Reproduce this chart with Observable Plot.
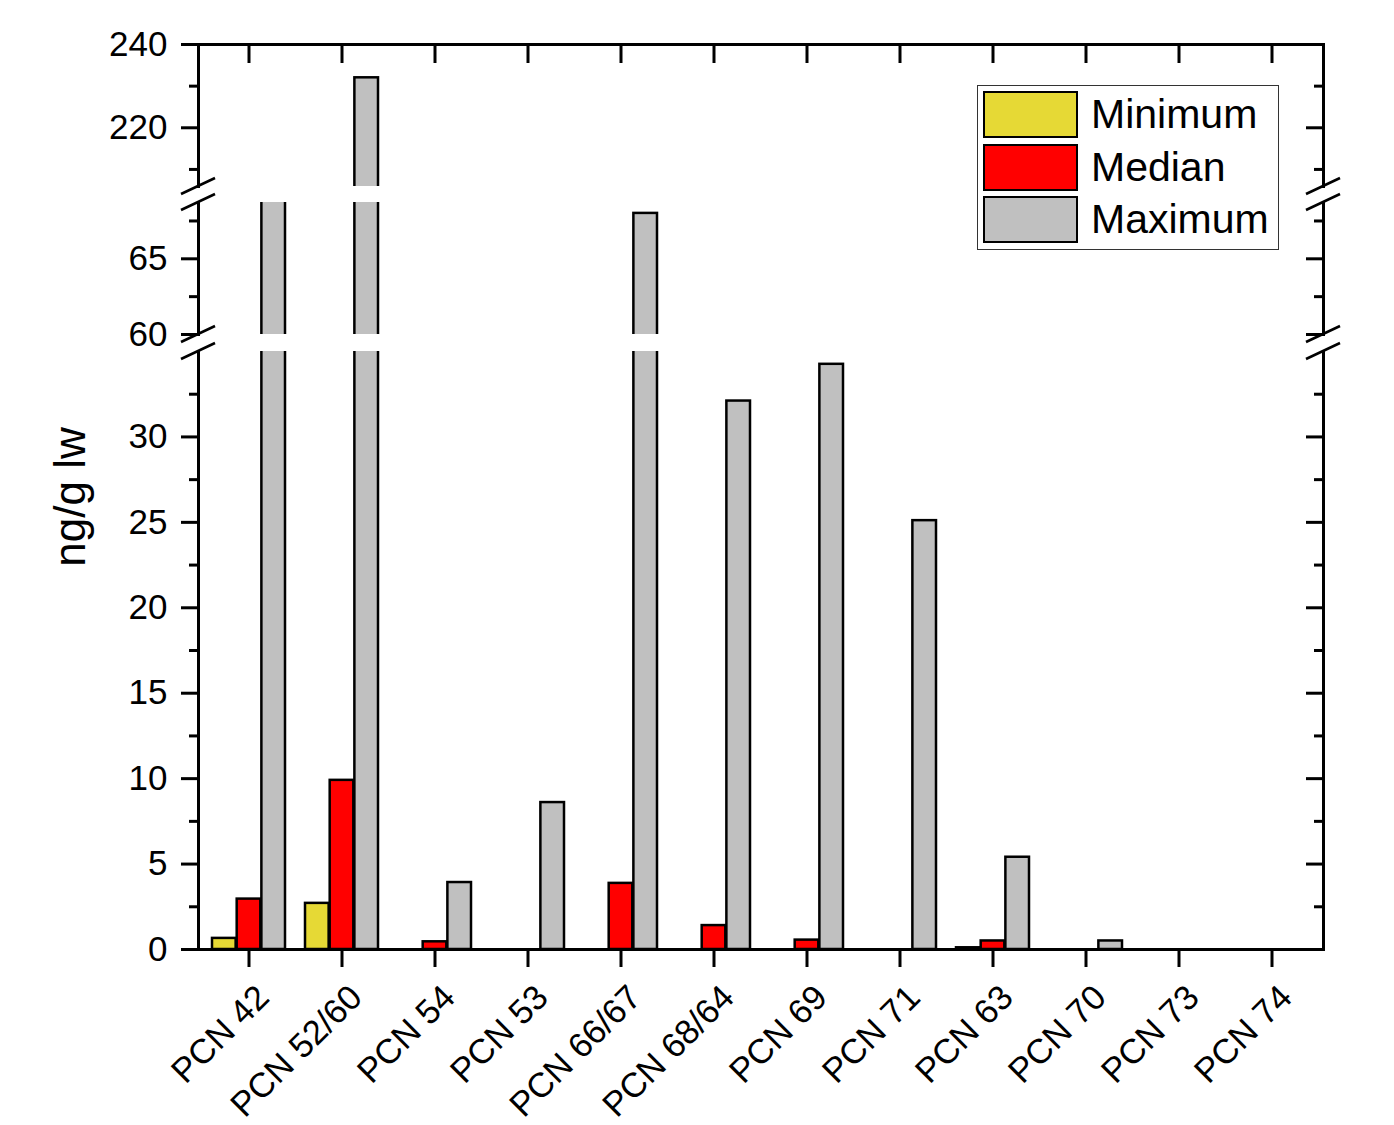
<!DOCTYPE html>
<html>
<head>
<meta charset="utf-8">
<script src="https://cdn.jsdelivr.net/npm/d3@7"></script>
<script src="https://cdn.jsdelivr.net/npm/@observablehq/plot@0.6"></script>
<style>
  html, body { margin: 0; padding: 0; background: #fff; }
  #chart { position: relative; width: 1394px; height: 1125px; overflow: hidden; font-family: "Liberation Sans", Arial, sans-serif; }
  #chart > svg { position: absolute; left: 0; }
  .legend { position: absolute; left: 977px; top: 85px; width: 302px; height: 165px; box-sizing: border-box; border: 1.5px solid #333; background: #fff; }
  .legend .sw { position: absolute; left: 4.5px; width: 95px; height: 47px; box-sizing: border-box; border: 2.5px solid #000; }
  .legend .lb { position: absolute; left: 113px; height: 47px; line-height: 47px; font-size: 41px; color: #000; white-space: nowrap; }
</style>
</head>
<body>
<div id="chart"></div>
<script>
// ---- data ----
const categories = ["PCN 42", "PCN 52/60", "PCN 54", "PCN 53", "PCN 66/67", "PCN 68/64", "PCN 69", "PCN 71", "PCN 63", "PCN 70", "PCN 73", "PCN 74"];
const minimum = [0.65, 2.7, 0, 0, 0, 0, 0, 0, 0.1, 0, 0, 0];
const median  = [2.95, 9.9, 0.45, 0, 3.87, 1.4, 0.55, 0, 0.5, 0, 0, 0];
const maximum = [120, 232, 3.92, 8.6, 68.0, 32.1, 34.25, 25.1, 5.4, 0.5, 0, 0];
const seriesNames = ["Minimum", "Median", "Maximum"];
const seriesColors = ["#e6d935", "#ff0000", "#c0c0c0"];
const yLabel = "ng/g lw";

// axis segments (broken y axis)
const topDomain = [205.9, 240], topMajor = [220, 240], topMinor = [210, 230];
const midDomain = [60, 68.72], midMajor = [60, 65], midMinor = [62.5, 67.5];
const lowDomain = [0, 35], lowMajor = [0, 5, 10, 15, 20, 25, 30], lowMinor = [2.5, 7.5, 12.5, 17.5, 22.5, 27.5, 32.5];

// ---- layout ----
const W = 1394, ML = 198, MR = 71;
const PAD_IN = 0.21, PAD_OUT = 0.105;
const step = (W - ML - MR) / (categories.length - PAD_IN + 2 * PAD_OUT);
const bw = step * (1 - PAD_IN);
const FONT = "Liberation Sans, Arial, sans-serif";

const valuesBySeries = [minimum, median, maximum];
const rows = categories.flatMap((c, i) => seriesNames.map((s, k) => ({category: c, series: s, value: valuesBySeries[k][i]})));

function breakMarks(ends) {
  return (index, scales, values, dims) => {
    const g = d3.create("svg:g").attr("stroke", "#000").attr("stroke-width", 2.5).attr("fill", "none");
    const xs = [dims.marginLeft, dims.width - dims.marginRight];
    for (const v of ends) {
      const y = scales.y(v);
      for (const x of xs) {
        g.append("line").attr("x1", x - 17).attr("y1", y + 8).attr("x2", x + 17).attr("y2", y - 8);
      }
    }
    return g.node();
  };
}

function segment({domain, major, minor, mt, h, mb, isTop, isBottom, breaks}) {
  const marks = [];
  seriesNames.forEach((s, i) => {
    marks.push(Plot.barY(rows.filter(d => d.series === s), {
      x: "category", y: "value", fill: seriesColors[i], stroke: "#000", strokeWidth: 2.5,
      insetLeft: i * bw / 3, insetRight: (2 - i) * bw / 3, clip: true
    }));
  });
  marks.push(Plot.frame({anchor: "left", strokeWidth: 3}));
  marks.push(Plot.frame({anchor: "right", strokeWidth: 3}));
  if (isTop) {
    marks.push(Plot.frame({anchor: "top", strokeWidth: 3}));
    marks.push(Plot.axisX({anchor: "top", tickSize: -18, tickFormat: () => "", strokeWidth: 3, label: null}));
  }
  if (isBottom) {
    marks.push(Plot.frame({anchor: "bottom", strokeWidth: 3}));
    marks.push(Plot.axisX({anchor: "bottom", tickSize: 18, tickFormat: () => "", strokeWidth: 3, label: null}));
    marks.push(Plot.text(categories, {
      x: d => d, frameAnchor: "bottom", rotate: -45, textAnchor: "end", lineAnchor: "bottom",
      dx: 22, dy: 50, fontSize: 34.5, fill: "#000"
    }));
  }
  marks.push(Plot.axisY({anchor: "left", ticks: major, tickSize: 17, tickPadding: 14, strokeWidth: 3, fontSize: 35, label: null}));
  marks.push(Plot.axisY({anchor: "left", ticks: minor, tickSize: 9, tickFormat: () => "", strokeWidth: 3, label: null}));
  marks.push(Plot.axisY({anchor: "right", ticks: major, tickSize: -18, tickFormat: () => "", strokeWidth: 3, label: null}));
  marks.push(Plot.axisY({anchor: "right", ticks: minor, tickSize: -10, tickFormat: () => "", strokeWidth: 3, label: null}));
  marks.push(breakMarks(breaks));
  return Plot.plot({
    width: W, height: mt + h + mb,
    marginLeft: ML, marginRight: MR, marginTop: mt, marginBottom: mb,
    style: {background: "transparent", overflow: "visible", fontFamily: FONT, fontSize: "35px", color: "#000"},
    x: {type: "band", domain: categories, paddingInner: PAD_IN, paddingOuter: PAD_OUT, axis: null},
    y: {domain, axis: null},
    marks
  });
}

const chart = document.getElementById("chart");
const segs = [
  {top: 0,   el: segment({domain: topDomain, major: topMajor, minor: topMinor, mt: 44, h: 142, mb: 0, isTop: true, breaks: [topDomain[0]]})},
  {top: 202, el: segment({domain: midDomain, major: midMajor, minor: midMinor, mt: 0, h: 132, mb: 0, breaks: [midDomain[0], midDomain[1]]})},
  {top: 351, el: segment({domain: lowDomain, major: lowMajor, minor: lowMinor, mt: 0, h: 598, mb: 176, isBottom: true, breaks: [lowDomain[1]]})}
];
for (const s of segs) {
  s.el.style.top = s.top + "px";
  chart.appendChild(s.el);
}

// y-axis title
const lab = d3.create("svg").attr("width", W).attr("height", 1125)
  .style("top", "0px").style("pointer-events", "none").style("overflow", "visible");
lab.append("text").attr("transform", "translate(85,497) rotate(-90)")
  .attr("text-anchor", "middle").attr("font-family", FONT).attr("font-size", 44).attr("fill", "#000")
  .text(yLabel);
chart.appendChild(lab.node());

// legend
const legend = document.createElement("div");
legend.className = "legend";
seriesNames.forEach((s, i) => {
  const top = 5.2 + i * 52.5;
  const sw = document.createElement("div");
  sw.className = "sw"; sw.style.top = top + "px"; sw.style.background = seriesColors[i];
  const lb = document.createElement("div");
  lb.className = "lb"; lb.style.top = top + "px"; lb.textContent = s;
  legend.appendChild(sw); legend.appendChild(lb);
});
chart.appendChild(legend);
</script>
</body>
</html>
